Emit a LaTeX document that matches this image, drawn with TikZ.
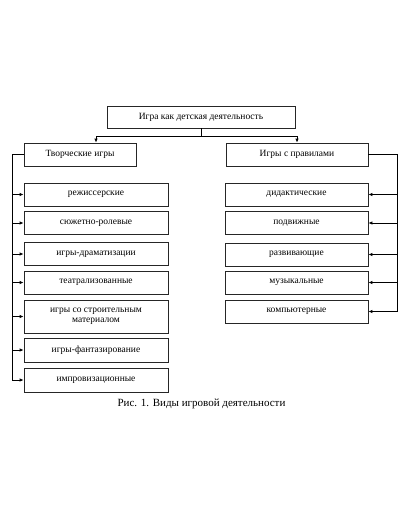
\documentclass[tikz,border=0pt]{standalone}
\usepackage{fontspec}
\setmainfont{Liberation Serif}
\usetikzlibrary{arrows.meta}
\begin{document}
\begin{tikzpicture}[x=1pt,y=-1pt,
  box/.style={draw=black!85,line width=0.8pt,inner sep=0pt,align=center,font=\fontsize{9.5}{10.5}\selectfont},
  lbox/.style={box,minimum width=144pt,minimum height=23pt},
  rbox/.style={box,minimum width=143pt,minimum height=23pt},
  conn/.style={draw=black,line width=0.9pt},
  arr/.style={conn,-{Latex[length=4pt,width=3.5pt]}}]
\fill[white] (0,0) rectangle (406,516);
\useasboundingbox (0,0) rectangle (406,516);
\node[box,minimum width=188pt,minimum height=22pt] (top) at (201,117) {Игра как детская деятельность};
\node[box,minimum width=112pt,minimum height=23pt] (L) at (80,154.5) {Творческие игры};
\node[box,minimum width=142pt,minimum height=23pt] (R) at (297,154.5) {Игры с правилами};
\node[lbox] (c1) at (96,194.5) {режиссерские};
\node[lbox] (c2) at (96,223) {сюжетно-ролевые};
\node[lbox] (c3) at (96,254) {игры-драматизации};
\node[lbox] (c4) at (96,282.5) {театрализованные};
\node[lbox,minimum height=33pt] (c5) at (96,316.5) {игры со строительным\\материалом};
\node[lbox,minimum height=24pt] (c6) at (96,350) {игры-фантазирование};
\node[lbox,minimum height=24pt] (c7) at (96,380) {импровизационные};
\node[rbox] (d1) at (296.5,194.5) {дидактические};
\node[rbox] (d2) at (296.5,223) {подвижные};
\node[rbox] (d3) at (296.5,254.5) {развивающие};
\node[rbox] (d4) at (296.5,282.5) {музыкальные};
\node[rbox] (d5) at (296.5,311.5) {компьютерные};
\node[font=\fontsize{11}{12}\selectfont] (cap) at (201.5,404) {Рис. 1. Виды игровой деятельности};
\coordinate (j) at (201,136);
\coordinate (la) at (96,136);
\coordinate (ra) at (297,136);
\coordinate (lx) at (12,0);
\coordinate (rx) at (397,0);
\draw[conn] (top.south) -- (j);
\draw[arr] (j) -| (la |- L.north);
\draw[arr] (j) -| (ra |- R.north);
\draw[conn] (L.west) -| (lx |- c7.west);
\draw[conn] (R.east) -| (rx |- d5.east);
\foreach \n in {c1,c2,c3,c4,c5,c6,c7}{\draw[arr] (lx |- \n.west) -- (\n.west);}
\foreach \n in {d1,d2,d3,d4,d5}{\draw[arr] (rx |- \n.east) -- (\n.east);}
\end{tikzpicture}
\end{document}
